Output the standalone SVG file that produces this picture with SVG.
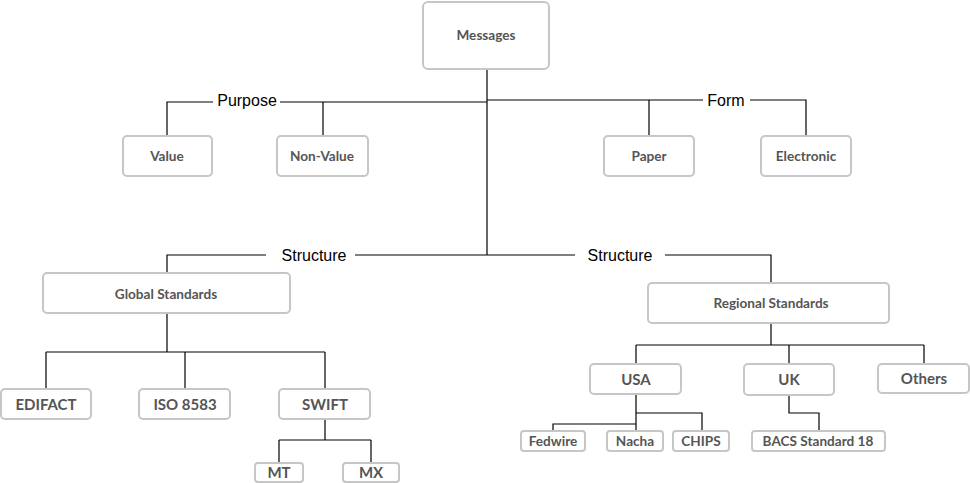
<svg xmlns="http://www.w3.org/2000/svg" width="970" height="483" viewBox="0 0 970 483">
<style>
.box{fill:#fff;stroke:#c6c6c6;stroke-width:2}
.t{font-family:Lato,"Open Sans","Liberation Sans",sans-serif;font-weight:bold;fill:#555;text-anchor:middle;dominant-baseline:central}
.s13{font-size:13.6px}
.s14{font-size:15px}
.s12{font-size:13.6px}
.lbl{font-family:"Liberation Sans",Arial,sans-serif;font-size:16px;fill:#000;text-anchor:middle;dominant-baseline:central}
.c{fill:none;stroke:#000;stroke-width:1.2}
</style>
<rect width="970" height="483" fill="#fff"/>
<g id="connectors">
<path class="c" d="M487,69 V255"/>
<path class="c" d="M487,102 H280 M213,102 H167 V136 M323,102 V136"/>
<path class="c" d="M487,100 H703 M750,100 H806 V136 M649,100 V136"/>
<path class="c" d="M487,255 H355 M266,255 H167 V273"/>
<path class="c" d="M487,255 H575 M665,255 H771 V283"/>
<path class="c" d="M167,313 V352 M46,352 H325 M46,352 V389 M185,352 V389 M325,352 V389"/>
<path class="c" d="M325,419 V440 M279,440 H371 M279,440 V463 M371,440 V463"/>
<path class="c" d="M771,323 V345 M636,345 H924 M636,345 V364 M789,345 V364 M924,345 V364"/>
<path class="c" d="M636,394 V431 M636,413 H702 V431 M636,424 H553 V431"/>
<path class="c" d="M789,395 V413 H819 V431"/>
</g>
<g id="lbl-purpose"><text class="lbl" x="247" y="100">Purpose</text></g>
<g id="lbl-form"><text class="lbl" x="726" y="100">Form</text></g>
<g id="lbl-structure-left"><text class="lbl" x="314" y="255">Structure</text></g>
<g id="lbl-structure-right"><text class="lbl" x="620" y="255">Structure</text></g>
<g id="messages"><rect class="box" x="423" y="2" width="126" height="67" rx="5"/><text class="t s13" x="486" y="35">Messages</text></g>
<g id="value"><rect class="box" x="123" y="136" width="89" height="40" rx="4"/><text class="t s13" x="167" y="156">Value</text></g>
<g id="nonvalue"><rect class="box" x="277" y="136" width="91" height="40" rx="4"/><text class="t s13" x="322" y="156">Non-Value</text></g>
<g id="paper"><rect class="box" x="604" y="136" width="90" height="40" rx="4"/><text class="t s13" x="649" y="156">Paper</text></g>
<g id="electronic"><rect class="box" x="761" y="136" width="90" height="40" rx="4"/><text class="t s13" x="806" y="156">Electronic</text></g>
<g id="global"><rect class="box" x="43" y="273" width="247" height="40" rx="4"/><text class="t s13" x="166" y="294">Global Standards</text></g>
<g id="regional"><rect class="box" x="648" y="283" width="241" height="40" rx="4"/><text class="t s13" x="771" y="303">Regional Standards</text></g>
<g id="edifact"><rect class="box" x="1" y="389" width="90" height="30" rx="4"/><text class="t s14" x="46" y="404">EDIFACT</text></g>
<g id="iso"><rect class="box" x="139" y="389" width="91" height="30" rx="4"/><text class="t s14" x="185" y="404">ISO 8583</text></g>
<g id="swift"><rect class="box" x="279" y="389" width="91" height="30" rx="4"/><text class="t s14" x="325" y="404">SWIFT</text></g>
<g id="mt"><rect class="box" x="255" y="463" width="48" height="19" rx="3"/><text class="t s14" x="279" y="472">MT</text></g>
<g id="mx"><rect class="box" x="343" y="463" width="56" height="19" rx="3"/><text class="t s14" x="371" y="472">MX</text></g>
<g id="usa"><rect class="box" x="590" y="364" width="91" height="30" rx="4"/><text class="t s14" x="636" y="379">USA</text></g>
<g id="uk"><rect class="box" x="744" y="364" width="90" height="31" rx="4"/><text class="t s14" x="789" y="379">UK</text></g>
<g id="others"><rect class="box" x="878" y="364" width="91" height="29" rx="4"/><text class="t s14" x="924" y="378">Others</text></g>
<g id="fedwire"><rect class="box" x="521" y="431" width="64" height="20" rx="3"/><text class="t s12" x="553" y="441">Fedwire</text></g>
<g id="nacha"><rect class="box" x="607" y="431" width="56" height="20" rx="3"/><text class="t s12" x="635" y="441">Nacha</text></g>
<g id="chips"><rect class="box" x="673" y="431" width="56" height="20" rx="3"/><text class="t s12" x="701" y="441">CHIPS</text></g>
<g id="bacs"><rect class="box" x="752" y="431" width="133" height="20" rx="3"/><text class="t s12" x="818" y="441">BACS Standard 18</text></g>
</svg>
